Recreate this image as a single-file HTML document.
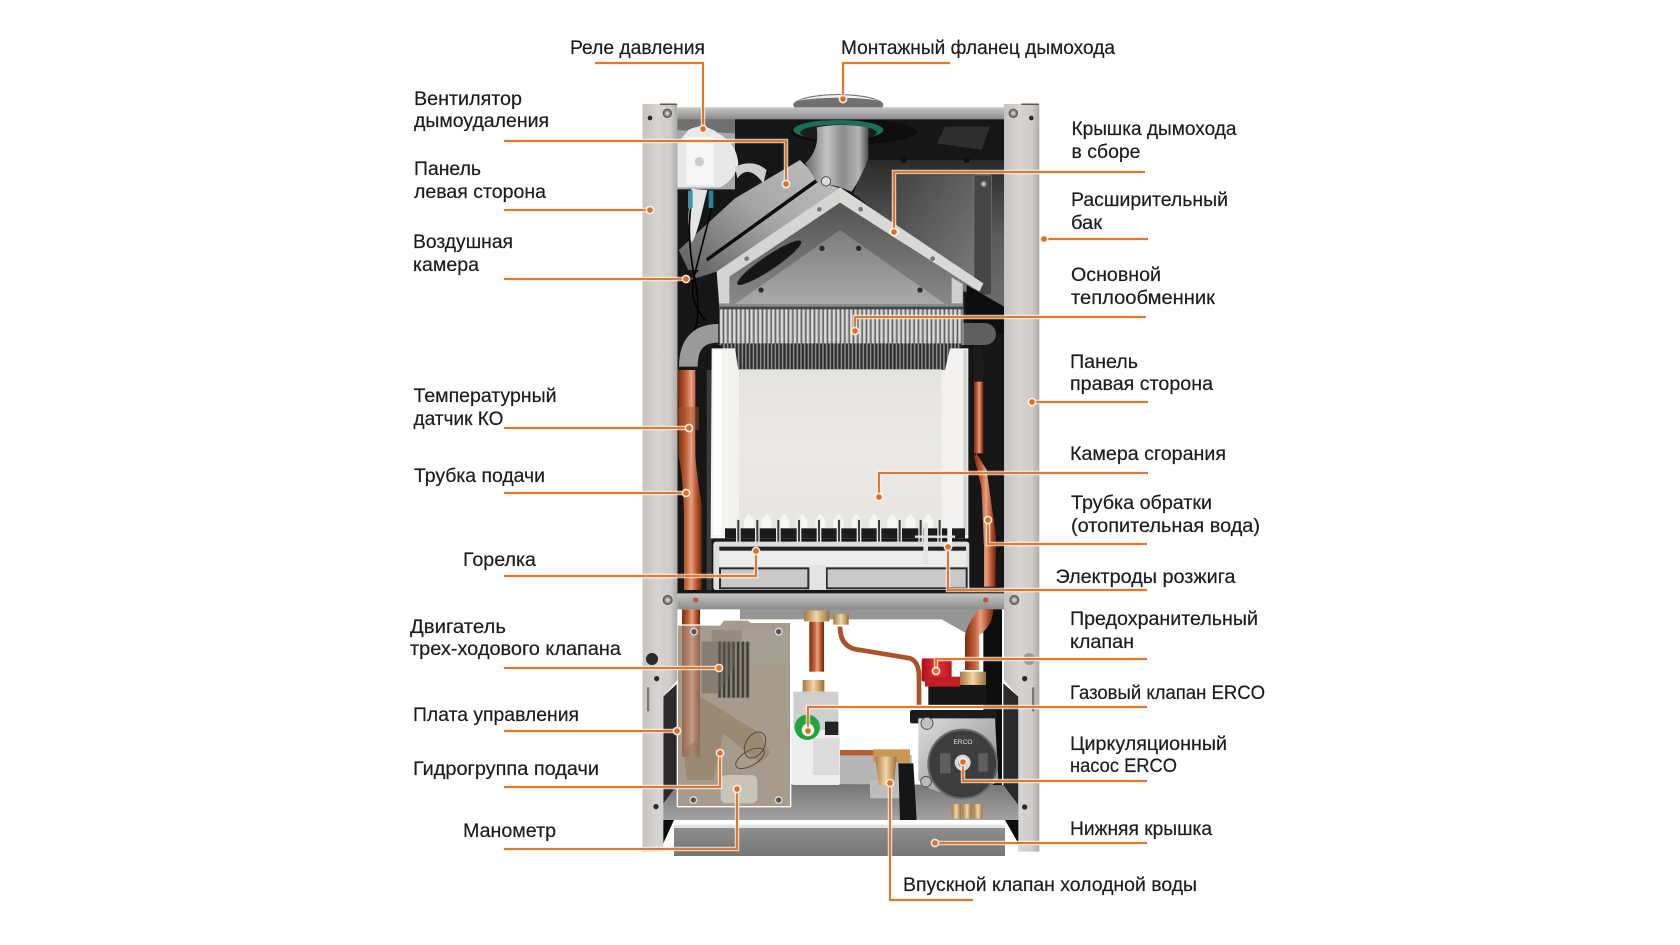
<!DOCTYPE html>
<html lang="ru"><head><meta charset="utf-8"><title>Устройство котла</title>
<style>
html,body{margin:0;padding:0;background:#fff;width:1680px;height:945px;overflow:hidden}
svg{display:block}
.t{font-family:"Liberation Sans",sans-serif;font-size:19px;fill:#1c1c1c;stroke:#1c1c1c;stroke-width:.2}
.l{fill:none;stroke:#dd7a30;stroke-width:2.2}
.d{fill:#dc6f22;stroke:#fff;stroke-width:1.6;stroke-opacity:.85}
</style></head><body>
<svg width="1680" height="945" viewBox="0 0 1680 945" xmlns="http://www.w3.org/2000/svg">
<defs>
<linearGradient id="pn" x1="0" x2="1" y1="0" y2="0"><stop offset="0" stop-color="#c6c2c1"/><stop offset=".45" stop-color="#d8d4d2"/><stop offset=".8" stop-color="#cfcbc9"/><stop offset="1" stop-color="#aeaaa8"/></linearGradient>
<linearGradient id="beam" x1="0" x2="0" y1="0" y2="1"><stop offset="0" stop-color="#c6c6c4"/><stop offset=".5" stop-color="#a9a9a8"/><stop offset="1" stop-color="#8b8b8a"/></linearGradient>
<linearGradient id="back" x1="0" x2="0" y1="0" y2="1"><stop offset="0" stop-color="#2a2a2a"/><stop offset=".5" stop-color="#5a5a5a"/><stop offset="1" stop-color="#6d6d6d"/></linearGradient>
<linearGradient id="plate" x1="0" x2="1" y1="0" y2="1"><stop offset="0" stop-color="#454545"/><stop offset="1" stop-color="#7c7c7c"/></linearGradient>
<linearGradient id="copper" gradientUnits="objectBoundingBox" x1="0" x2="1" y1="0" y2="0"><stop offset="0" stop-color="#7a2c12"/><stop offset=".35" stop-color="#c4623a"/><stop offset=".55" stop-color="#e7a284"/><stop offset=".8" stop-color="#b4502a"/><stop offset="1" stop-color="#6d2810"/></linearGradient>
<linearGradient id="duct" x1="0" x2="1" y1="1" y2="0"><stop offset="0" stop-color="#5e5e5e"/><stop offset=".55" stop-color="#a5a5a5"/><stop offset="1" stop-color="#bdbdbd"/></linearGradient>
<linearGradient id="elb" x1="0" x2="1" y1="0" y2="0"><stop offset="0" stop-color="#6a6a6a"/><stop offset=".35" stop-color="#c4c4c4"/><stop offset=".6" stop-color="#8b8b8b"/><stop offset=".85" stop-color="#b5b5b5"/><stop offset="1" stop-color="#4c4c4c"/></linearGradient>
<linearGradient id="hood" x1="0" x2="0" y1="0" y2="1"><stop offset="0" stop-color="#4b4b4b"/><stop offset="1" stop-color="#8c8c8c"/></linearGradient>
<linearGradient id="tri" x1="0" x2="0" y1="0" y2="1"><stop offset="0" stop-color="#7d7d7d"/><stop offset="1" stop-color="#a9a9a9"/></linearGradient>
<linearGradient id="cham" x1="0" x2="0" y1="0" y2="1"><stop offset="0" stop-color="#e4e3df"/><stop offset=".5" stop-color="#eae9e5"/><stop offset="1" stop-color="#e6e5e1"/></linearGradient>
<linearGradient id="floor" x1="0" x2="0" y1="0" y2="1"><stop offset="0" stop-color="#747474"/><stop offset="1" stop-color="#a3a3a3"/></linearGradient>
<linearGradient id="tray" x1="0" x2="0" y1="0" y2="1"><stop offset="0" stop-color="#8f8f8f"/><stop offset="1" stop-color="#757575"/></linearGradient>
<linearGradient id="pmp" x1="0" x2="1" y1="0" y2="1"><stop offset="0" stop-color="#dcdcdc"/><stop offset="1" stop-color="#8a8a8a"/></linearGradient>
<linearGradient id="red" x1="0" x2="1" y1="0" y2="0"><stop offset="0" stop-color="#a8121c"/><stop offset=".5" stop-color="#e13038"/><stop offset="1" stop-color="#b81a22"/></linearGradient>
<linearGradient id="brass" x1="0" x2="1" y1="0" y2="0"><stop offset="0" stop-color="#a67a3e"/><stop offset=".5" stop-color="#f0d6a8"/><stop offset="1" stop-color="#9e6f34"/></linearGradient>
<pattern id="fin" patternUnits="userSpaceOnUse" width="13" height="10"><rect width="13" height="10" fill="#5f5f5f"/><rect x="1" width="7" height="10" fill="#dcdcdc"/><rect x="8" width="2" height="10" fill="#a5a5a5"/></pattern>
<pattern id="fin2" patternUnits="userSpaceOnUse" width="11" height="10"><rect width="11" height="10" fill="#2e2e2e"/><rect x="2" width="4" height="10" fill="#979797"/></pattern>
<pattern id="slots" patternUnits="userSpaceOnUse" width="14" height="10"><rect width="14" height="10" fill="#8a8478"/><rect x="1" width="7" height="10" fill="#3c3a36"/></pattern>
<radialGradient id="sc"><stop offset="0" stop-color="#eee"/><stop offset=".6" stop-color="#888"/><stop offset="1" stop-color="#444"/></radialGradient>
<filter id="soft" x="-5%" y="-5%" width="110%" height="110%"><feGaussianBlur stdDeviation="1"/></filter>
</defs>

<g transform="translate(620 80) scale(.33333)" filter="url(#soft)">
  <!-- flue flange -->
  <ellipse cx="655" cy="75" rx="135" ry="33" fill="#6f6f6f"/>
  <path d="M530 62Q655 28 780 62Q655 44 530 62Z" fill="#f2f2f2"/>

  <!-- interior back -->
  <rect x="172" y="110" width="980" height="1435" fill="#171717"/>
  <rect x="345" y="118" width="807" height="122" fill="#141414"/>
  <polygon points="740,240 1152,240 1152,690 1030,610 700,340" fill="url(#back)"/>
  <rect x="830" y="285" width="235" height="350" fill="url(#plate)"/>
  <rect x="1062" y="285" width="53" height="360" rx="6" fill="#454545" stroke="#777" stroke-width="2"/>
  <polygon points="950,190 975,140 1110,140 1085,210" fill="#2f2f2f"/>
  <circle cx="851" cy="240" r="9" fill="#0c0c0c"/><circle cx="1040" cy="240" r="9" fill="#0c0c0c"/>
  <circle cx="1091" cy="312" r="11" fill="url(#sc)"/>
  <polygon points="1040,615 1152,680 1152,760 1130,760 1040,720" fill="#0c0c0c"/>
  <rect x="172" y="118" width="173" height="210" fill="#a8a8a8"/>
  <polygon points="172,118 345,118 345,160 172,150" fill="#707070"/>
  <ellipse cx="700" cy="155" rx="190" ry="38" fill="#0e0e0e"/>

  <!-- duct -->
  <polygon points="176,510 345,355 540,240 600,300 270,570 205,570" fill="url(#duct)"/>
  <polygon points="262,545 596,304 660,325 290,575 210,600" fill="url(#duct)"/>
  <polygon points="258,535 590,295 596,304 262,545" fill="#111"/>
  <!-- green collar and elbow -->
  <ellipse cx="655" cy="150" rx="135" ry="30" fill="#1c6e58"/>
  <ellipse cx="655" cy="158" rx="115" ry="24" fill="#1c1c1c"/>
  <path d="M590 142Q660 128 745 142L745 235Q725 290 695 335L655 320 590 305 555 250Q600 210 590 142Z" fill="url(#elb)"/>
  <circle cx="618" cy="304" r="14" fill="#ddd" stroke="#555" stroke-width="3"/>

  <!-- pressure switch / fan -->
  <path d="M355 250Q345 300 300 322L172 322 172 190 205 150Q250 125 295 160 350 190 355 250Z" fill="#e8e8e8"/>
  <path d="M198 170H282V315H198Z" fill="#f6f6f6"/>
  <circle cx="238" cy="245" r="14" fill="#ccc"/>
  <path d="M345 260Q400 235 440 270L430 310Q385 250 352 295Z" fill="#cfcfcf"/>
  <path d="M215 325Q240 330 262 330L245 400Q228 470 215 488 195 440 215 325Z" fill="#e5e5e5"/>
  <rect x="204" y="332" width="14" height="52" fill="#3c93a6"/><rect x="266" y="332" width="14" height="52" fill="#2d8497"/>
  <path d="M212 385Q200 480 225 600T205 800" stroke="#050505" stroke-width="5" fill="none"/>
  <path d="M275 385Q240 520 222 590T255 720" stroke="#050505" stroke-width="5" fill="none"/>

  <!-- hood -->
  <polygon points="290,575 660,322 1090,610 1078,635 1030,600 1030,690 298,690" fill="url(#hood)"/>
  <polygon points="345,672 660,450 975,672" fill="url(#tri)"/>
  <polygon points="660,322 660,368 328,590 328,670 298,670 290,575" fill="#d5d5d3"/>
  <polygon points="660,322 1090,610 1078,635 660,368" fill="#d9d9d7"/>
  <polygon points="995,592 1028,612 1028,670 995,670" fill="#cfcfcd"/>
  <ellipse cx="448" cy="548" rx="115" ry="21" transform="rotate(-34 448 548)" fill="#141414"/>
  <g fill="#777"><circle cx="598" cy="388" r="7"/><circle cx="722" cy="388" r="7"/><circle cx="380" cy="536" r="7"/><circle cx="938" cy="536" r="7"/></g>
  <g fill="#2c2c2c"><circle cx="606" cy="505" r="8"/><circle cx="716" cy="505" r="8"/><circle cx="423" cy="630" r="8"/><circle cx="900" cy="630" r="8"/></g>

  <!-- side pipes top -->
  <path d="M295 760Q205 760 205 860" stroke="#9a9a9a" stroke-width="56" fill="none"/>
  <path d="M1030 762H1095" stroke="#5e5e5e" stroke-width="66" stroke-linecap="round" fill="none"/>
  <path d="M1070 800Q1080 840 1075 905" stroke="#1e1e1e" stroke-width="28" fill="none"/>

  <!-- copper left and right -->
  <path d="M174 870H226V1130Q232 1200 245 1270V1540H192V1300Q188 1180 176 1130Z" fill="url(#copper)"/>
  <rect x="1062" y="905" width="28" height="215" fill="url(#copper)"/>
  <path d="M1070 1120L1100 1170 1128 1370 1126 1520H1092V1400L1084 1220 1062 1130Z" fill="url(#copper)"/>
  <rect x="260" y="870" width="15" height="680" fill="#3a3a3a"/>
  <rect x="175" y="980" width="62" height="70" fill="#a5522e" opacity=".45"/>

  <!-- exchanger -->
  <rect x="298" y="680" width="732" height="115" fill="url(#fin)"/>
  <rect x="298" y="680" width="732" height="8" fill="#444"/>
  <polygon points="298,790 1030,790 975,870 355,870" fill="url(#fin2)"/>

  <!-- chamber -->
  <path d="M275 805H345L355 870H975L990 805H1045V1375H272Z" fill="#f3f2f0"/>
  <rect x="357" y="868" width="608" height="480" fill="url(#cham)"/>
  <rect x="280" y="810" width="24" height="555" fill="#fff"/>
  <rect x="1030" y="810" width="12" height="555" fill="#d5d4d2"/>

  <g transform="translate(0 840)">
    <!-- burner -->
    <rect x="315" y="505" width="720" height="30" fill="#1f1f1f"/>
    <g fill="#f6f6f4">
      <path d="M372 480l15-20 15 20v24h-30z"/><path d="M425 480l15-20 15 20v24h-30z"/><path d="M478 480l15-20 15 20v24h-30z"/><path d="M532 480l15-20 15 20v24h-30z"/><path d="M586 480l15-20 15 20v24h-30z"/><path d="M640 480l15-20 15 20v24h-30z"/><path d="M694 480l15-20 15 20v24h-30z"/><path d="M748 480l15-20 15 20v24h-30z"/><path d="M802 480l15-20 15 20v24h-30z"/><path d="M856 480l15-20 15 20v24h-30z"/><path d="M910 480l15-20 15 20v24h-30z"/>
    </g>
    <g fill="#3a3a3a" stroke="#e8e8e8" stroke-width="4">
      <rect x="350" y="478" width="10" height="80"/><rect x="407" y="478" width="10" height="80"/><rect x="470" y="478" width="10" height="80"/><rect x="532" y="478" width="10" height="80"/><rect x="592" y="478" width="10" height="80"/><rect x="652" y="478" width="10" height="80"/><rect x="712" y="478" width="10" height="80"/><rect x="772" y="478" width="10" height="80"/><rect x="834" y="478" width="10" height="80"/><rect x="897" y="478" width="10" height="80"/><rect x="954" y="478" width="10" height="80"/>
    </g>
    <rect x="280" y="545" width="768" height="145" rx="8" fill="#dedede"/>
    <rect x="298" y="560" width="740" height="12" fill="#202020"/>
    <rect x="298" y="574" width="740" height="46" fill="#ececec"/>
    <rect x="300" y="625" width="265" height="60" fill="#c9c9c9" stroke="#2b2b2b" stroke-width="6"/>
    <rect x="620" y="625" width="420" height="60" fill="#c9c9c9" stroke="#2b2b2b" stroke-width="6"/>
    <rect x="570" y="615" width="48" height="80" fill="#e3e3e3"/>
    <rect x="910" y="488" width="14" height="125" fill="#e4e4e4"/><rect x="982" y="455" width="14" height="105" fill="#f2f2f2"/>
    <path d="M885 530H1005" stroke="#e4e4e4" stroke-width="7"/>
    <rect x="172" y="690" width="980" height="12" fill="#121212"/>
  </g>

  <g transform="translate(0 1530)">
    <!-- lower white opening -->
    <rect x="172" y="55" width="980" height="535" fill="#fff"/>
    <!-- dark side wings -->
    <polygon points="130,320 172,280 172,690 130,690" fill="#2a2a2a"/>
    <polygon points="1150,280 1195,320 1195,690 1150,690" fill="#2a2a2a"/>
    <rect x="1090" y="55" width="56" height="530" fill="#111"/>
    <!-- crossbar under beam -->
    <polygon points="360,55 1090,55 1090,130 1035,128 965,88 360,88" fill="#959595"/>
    <!-- wall behind valve -->
    <rect x="660" y="495" width="215" height="95" fill="#b5b5b5"/>
    <!-- floor -->
    <polygon points="130,690 130,640 175,580 1150,585 1195,645 1195,690" fill="url(#floor)"/>
    <!-- tray -->
    <rect x="162" y="712" width="993" height="86" fill="url(#tray)"/>
    <rect x="162" y="704" width="993" height="10" fill="#e2e2e2"/>
    <!-- right copper -->
    <path d="M1120 55Q1120 105 1078 135V240H1035V140Q1035 110 1080 55Z" fill="url(#copper)"/>
    <rect x="1020" y="245" width="78" height="50" fill="url(#brass)"/>
    <!-- fill pipe -->
    <path d="M660 110Q660 175 720 180L870 205Q897 215 897 260V345" stroke="#a8532b" stroke-width="14" fill="none"/>
    <rect x="640" y="72" width="46" height="32" fill="url(#brass)"/>
    <!-- red valve -->
    <rect x="925" y="285" width="175" height="60" fill="#151515"/>
    <rect x="905" y="205" width="90" height="70" rx="6" fill="url(#red)"/>
    <rect x="915" y="260" width="105" height="30" fill="#c21f28"/>
    <!-- gas pipe -->
    <rect x="568" y="95" width="44" height="150" fill="url(#copper)"/>
    <rect x="552" y="62" width="76" height="32" fill="url(#brass)"/>
    <rect x="548" y="270" width="65" height="35" fill="url(#brass)"/>
    <!-- gas valve -->
    <rect x="520" y="305" width="135" height="115" fill="#cfcfcf"/>
    <rect x="515" y="420" width="145" height="165" rx="6" fill="#ededed"/>
    <rect x="615" y="395" width="40" height="40" fill="#222"/>
    <rect x="580" y="445" width="78" height="110" fill="#dadada"/>
    <circle cx="562" cy="412" r="38" fill="#23a33a"/><circle cx="564" cy="420" r="19" fill="#e8f2ea"/>
    <!-- horizontal pipe and cold-water valve -->
    <rect x="660" y="480" width="110" height="16" fill="#b4602f"/>
    <rect x="760" y="478" width="110" height="40" fill="#c99757"/>
    <rect x="750" y="570" width="90" height="55" rx="4" fill="#bdbdbd"/>
    <path d="M765 500h65l-8 85h-45z" fill="url(#brass)"/>
    <polygon points="835,520 880,520 890,690 840,690" fill="#151515"/>
    <!-- pump -->
    <rect x="870" y="360" width="260" height="40" rx="6" fill="#1c1c1c"/>
    <path d="M895 385H1125L1135 570Q1080 620 1020 615 930 610 895 570Z" fill="url(#pmp)"/>
    <circle cx="1028" cy="522" r="103" fill="#3d3d3d" stroke="#6a6a6a" stroke-width="6"/>
    <circle cx="1028" cy="518" r="24" fill="#d8d8d8"/><circle cx="1028" cy="518" r="13" fill="#6a6a6a"/>
    <text x="1000" y="462" font-family="Liberation Sans,sans-serif" font-size="20" fill="#e5e5e5">ERCO</text>
    <rect x="960" y="490" width="32" height="60" fill="#8a8a8a" opacity=".45"/>
    <rect x="1075" y="490" width="28" height="55" fill="#8a8a8a" opacity=".45"/>
    <circle cx="921" cy="400" r="18" fill="#c2c2c2" stroke="#555" stroke-width="3"/>
    <circle cx="918" cy="575" r="16" fill="#b9b9b9" stroke="#555" stroke-width="3"/>
    <!-- small brass terminals -->
    <g fill="url(#brass)"><rect x="995" y="642" width="28" height="44"/><rect x="1027" y="642" width="28" height="44"/><rect x="1060" y="642" width="28" height="44"/></g>

    <!-- control panel -->
    <rect x="186" y="58" width="54" height="50" fill="url(#copper)"/>
    <path d="M172 105H300L310 90 385 90 392 97H512V650H172Z" fill="#a69b8c"/>
    <rect x="186" y="105" width="54" height="395" fill="url(#copper)" opacity=".45"/>
    <path d="M240 320L420 430 450 490 420 520 310 430 280 570H200L190 480 240 440Z" fill="#8f7a5e" opacity=".55"/>
    <rect x="275" y="120" width="237" height="35" fill="#948d7f"/>
    <rect x="365" y="120" width="147" height="100" fill="#a5a092"/>
    <rect x="295" y="155" width="95" height="168" fill="url(#slots)"/>
    <path d="M245 155H345V230L295 310H245Z" fill="#66625a" opacity=".5"/>
    <rect x="302" y="555" width="110" height="85" rx="18" fill="#c9c3b8"/>
    <path d="M172 105H300L310 90 385 90 392 97H512V650H172Z" fill="none" stroke="#fff" stroke-width="4"/>
    <ellipse cx="390" cy="505" rx="48" ry="22" transform="rotate(-30 390 505)" fill="none" stroke="#5a4a38" stroke-width="3"/>
    <ellipse cx="405" cy="465" rx="28" ry="42" transform="rotate(30 405 465)" fill="none" stroke="#5a4a38" stroke-width="3"/>
    <g fill="#555" stroke="#ddd" stroke-width="4"><circle cx="222" cy="125" r="10"/><circle cx="476" cy="125" r="10"/><circle cx="220" cy="630" r="10"/><circle cx="476" cy="630" r="10"/></g>
  </g>

  <!-- side panels -->
  <path d="M67 72H172V1800L130 1850V2315H67Z" fill="url(#pn)"/>
  <path d="M1152 72H1258V2315H1195V1850L1152 1800Z" fill="url(#pn)"/>
  <rect x="120" y="70" width="50" height="5" fill="#555"/><rect x="1204" y="70" width="52" height="5" fill="#555"/>
  <polygon points="130,2220 162,2220 130,2290" fill="#111"/><polygon points="1155,2220 1195,2290 1195,2220" fill="#111"/>

  <!-- top and middle beams -->
  <rect x="172" y="82" width="980" height="36" fill="url(#beam)"/>
  <rect x="172" y="1540" width="980" height="48" fill="url(#beam)"/>
  <circle cx="227" cy="1560" r="8" fill="#b5583a"/><circle cx="1097" cy="1560" r="8" fill="#b5583a"/>

  <!-- screws -->
  <g fill="url(#sc)"><circle cx="142" cy="100" r="14"/><circle cx="1180" cy="100" r="14"/><circle cx="143" cy="1560" r="15"/><circle cx="1183" cy="1560" r="15"/></g>
  <g fill="#2a2a2a"><circle cx="90" cy="114" r="7"/><circle cx="1234" cy="114" r="7"/><circle cx="96" cy="1737" r="18"/><circle cx="110" cy="1796" r="8"/><circle cx="1214" cy="1796" r="8"/><circle cx="108" cy="2180" r="8"/><circle cx="1214" cy="2181" r="8"/></g>
  <circle cx="1228" cy="1737" r="18" fill="#9a9a9a"/>
  <rect x="81" y="1822" width="7" height="72" fill="#777"/><rect x="1236" y="1822" width="7" height="72" fill="#777"/>
</g>

<!-- leaders -->
<path d="M595 63H703V129M843 99V63H950M504 141H786V184M504 210H650M504 279H686M1145 172H894V232M1148 239H1044M1146 317H855V331M1148 402H1032M504 428H689M504 493H686M1148 473H879V497M988 520V544H1147M504 576H756V551M948 547V590H1147M504 668H719M1147 659H936V671M1147 707H808V731M504 731H677M504 787H720V753M504 849H737V789M963 762V781H1147M1147 843H935M890 783V900H973" fill="none" stroke="#fff" stroke-width="4.5" stroke-opacity=".75"/>
<path class="l" d="M595 63H703V129M843 99V63H950M504 141H786V184M504 210H650M504 279H686M1145 172H894V232M1148 239H1044M1146 317H855V331M1148 402H1032M504 428H689M504 493H686M1148 473H879V497M988 520V544H1147M504 576H756V551M948 547V590H1147M504 668H719M1147 659H936V671M1147 707H808V731M504 731H677M504 787H720V753M504 849H737V789M963 762V781H1147M1147 843H935M890 783V900H973"/>
<g class="d">
<circle cx="703" cy="129" r="3.6"/><circle cx="843" cy="99" r="3.6"/><circle cx="786" cy="184" r="3.6"/><circle cx="650" cy="210" r="3.6"/><circle cx="686" cy="279" r="3.6"/><circle cx="894" cy="232" r="3.6"/><circle cx="1044" cy="239" r="3.6"/><circle cx="855" cy="331" r="3.6"/><circle cx="1032" cy="402" r="3.6"/><circle cx="689" cy="428" r="3.6"/><circle cx="686" cy="493" r="3.6"/><circle cx="879" cy="497" r="3.6"/><circle cx="988" cy="520" r="3.6"/><circle cx="756" cy="551" r="3.6"/><circle cx="948" cy="547" r="3.6"/><circle cx="719" cy="668" r="3.6"/><circle cx="936" cy="671" r="3.6"/><circle cx="808" cy="731" r="3.6"/><circle cx="677" cy="731" r="3.6"/><circle cx="720" cy="753" r="3.6"/><circle cx="737" cy="789" r="3.6"/><circle cx="963" cy="762" r="3.6"/><circle cx="935" cy="843" r="3.6"/><circle cx="890" cy="783" r="3.6"/>
</g>

<!-- labels -->
<g>
<text class="t" x="570" y="54" textLength="135" lengthAdjust="spacingAndGlyphs">Реле давления</text>
<text class="t" x="841" y="54" textLength="274" lengthAdjust="spacingAndGlyphs">Монтажный фланец дымохода</text>
<text class="t" x="414" y="105" textLength="108" lengthAdjust="spacingAndGlyphs">Вентилятор</text>
<text class="t" x="414" y="127" textLength="135" lengthAdjust="spacingAndGlyphs">дымоудаления</text>
<text class="t" x="414" y="175" textLength="67" lengthAdjust="spacingAndGlyphs">Панель</text>
<text class="t" x="414" y="198" textLength="132" lengthAdjust="spacingAndGlyphs">левая сторона</text>
<text class="t" x="413" y="248" textLength="100" lengthAdjust="spacingAndGlyphs">Воздушная</text>
<text class="t" x="413" y="271" textLength="66" lengthAdjust="spacingAndGlyphs">камера</text>
<text class="t" x="413.5" y="402" textLength="143" lengthAdjust="spacingAndGlyphs">Температурный</text>
<text class="t" x="413.5" y="425" textLength="90" lengthAdjust="spacingAndGlyphs">датчик КО</text>
<text class="t" x="414" y="482" textLength="131" lengthAdjust="spacingAndGlyphs">Трубка подачи</text>
<text class="t" x="463" y="566" textLength="73" lengthAdjust="spacingAndGlyphs">Горелка</text>
<text class="t" x="410" y="633" textLength="96" lengthAdjust="spacingAndGlyphs">Двигатель</text>
<text class="t" x="410" y="655" textLength="211" lengthAdjust="spacingAndGlyphs">трех-ходового клапана</text>
<text class="t" x="413" y="721" textLength="166" lengthAdjust="spacingAndGlyphs">Плата управления</text>
<text class="t" x="413" y="775" textLength="186" lengthAdjust="spacingAndGlyphs">Гидрогруппа подачи</text>
<text class="t" x="463" y="837" textLength="93" lengthAdjust="spacingAndGlyphs">Манометр</text>
<text class="t" x="1071.5" y="135" textLength="165" lengthAdjust="spacingAndGlyphs">Крышка дымохода</text>
<text class="t" x="1071.5" y="158" textLength="69" lengthAdjust="spacingAndGlyphs">в сборе</text>
<text class="t" x="1071" y="206" textLength="157" lengthAdjust="spacingAndGlyphs">Расширительный</text>
<text class="t" x="1071" y="229" textLength="31" lengthAdjust="spacingAndGlyphs">бак</text>
<text class="t" x="1071" y="281" textLength="90" lengthAdjust="spacingAndGlyphs">Основной</text>
<text class="t" x="1071" y="304" textLength="144" lengthAdjust="spacingAndGlyphs">теплообменник</text>
<text class="t" x="1070" y="368" textLength="68" lengthAdjust="spacingAndGlyphs">Панель</text>
<text class="t" x="1070" y="390" textLength="143" lengthAdjust="spacingAndGlyphs">правая сторона</text>
<text class="t" x="1070" y="460" textLength="156" lengthAdjust="spacingAndGlyphs">Камера сгорания</text>
<text class="t" x="1071" y="509" textLength="141" lengthAdjust="spacingAndGlyphs">Трубка обратки</text>
<text class="t" x="1071" y="532" textLength="189" lengthAdjust="spacingAndGlyphs">(отопительная вода)</text>
<text class="t" x="1055.5" y="583" textLength="180" lengthAdjust="spacingAndGlyphs">Электроды розжига</text>
<text class="t" x="1070" y="625" textLength="188" lengthAdjust="spacingAndGlyphs">Предохранительный</text>
<text class="t" x="1070" y="648" textLength="64" lengthAdjust="spacingAndGlyphs">клапан</text>
<text class="t" x="1070" y="699" textLength="195" lengthAdjust="spacingAndGlyphs">Газовый клапан ERCO</text>
<text class="t" x="1070" y="750" textLength="157" lengthAdjust="spacingAndGlyphs">Циркуляционный</text>
<text class="t" x="1070" y="772" textLength="107" lengthAdjust="spacingAndGlyphs">насос ERCO</text>
<text class="t" x="1070" y="835" textLength="142" lengthAdjust="spacingAndGlyphs">Нижняя крышка</text>
<text class="t" x="903" y="891" textLength="294" lengthAdjust="spacingAndGlyphs">Впускной клапан холодной воды</text>
</g>
</svg>
</body></html>
